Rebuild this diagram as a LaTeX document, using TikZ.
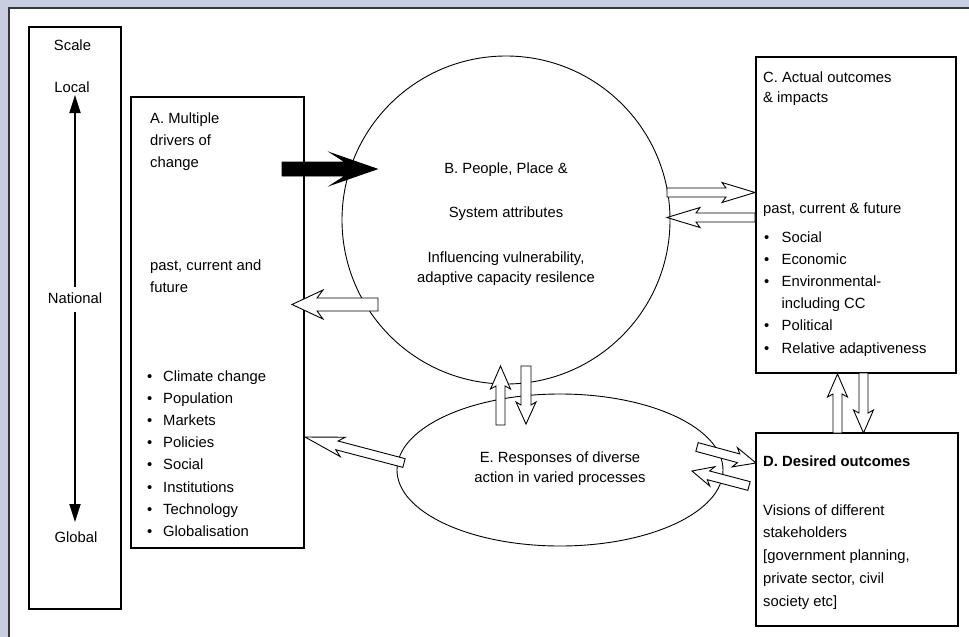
\documentclass[tikz,border=0pt]{standalone}
\usepackage{fontspec}
\setmainfont{Liberation Sans}
\usetikzlibrary{calc,arrows.meta}
\definecolor{bgblue}{RGB}{198,206,224}
\definecolor{framegray}{RGB}{55,55,55}
% #1 style, #2 tail, #3 tip, #4 half shaft, #5 half head, #6 junction dist from tip, #7 barb dist from tip
\newcommand\blockarrow[7][fill=white]{%
  \path let \p1=(#2), \p2=(#3), \n1={atan2(\y2-\y1,\x2-\x1)}, \n2={veclen(\x2-\x1,\y2-\y1)} in
    \pgfextra{\xdef\baang{\n1}\xdef\balen{\n2}};
  \pgfmathsetmacro\baA{\baang}%
  \pgfmathsetmacro\baL{\balen}%
  \pgfmathsetmacro\baj{\baL-#6}%
  \pgfmathsetmacro\bab{\baL-#7}%
  \draw[line width=0.9pt, line join=miter, #1, shift={(#2)}, rotate=\baA]
    (0pt,#4pt) -- (\baj pt,#4pt) -- (\bab pt,#5pt) -- (\baL pt,0pt)
    -- (\bab pt,-#5pt) -- (\baj pt,-#4pt) -- (0pt,-#4pt) -- cycle;
}
\tikzset{
  txt/.style={font=\fontsize{14.8pt}{17pt}\selectfont, inner sep=0pt, anchor=base west},
  ctxt/.style={txt, anchor=base},
  boxshape/.style={draw, line width=1.1pt, rectangle, inner sep=0pt},
}
\begin{document}
\begin{tikzpicture}[x=1pt,y=-1pt]
\useasboundingbox (0,0) rectangle (969,637);
\fill[bgblue] (0,0) rectangle (969,637);
\fill[white] (9,8) rectangle (969,637);
\coordinate (f1) at (9,637); \coordinate (f2) at (9,8); \coordinate (f3) at (969,8);
\draw[framegray, line width=2pt] (f1) -- (f2) -- (f3);

% scale box
\node[boxshape, minimum width=92pt, minimum height=582pt] (S) at (75,318) {};
\node[ctxt] (scale) at (72.5,50) {Scale};
\node[ctxt] (local) at (72,92) {Local};
\node[ctxt] (national) at (75,303) {National};
\node[ctxt] (global) at (76,542) {Global};
\coordinate (su) at (75,287);
\coordinate (sut) at (75,95);
\coordinate (sd) at (75,312);
\coordinate (sdt) at (75,522);
\draw[line width=1.8pt, -{Triangle[length=18pt,width=11pt]}] (su) -- (sut);
\draw[line width=1.8pt, -{Triangle[length=18pt,width=11pt]}] (sd) -- (sdt);

% box A
\node[boxshape, minimum width=173pt, minimum height=451pt] (A) at (217.5,322.5) {};
\foreach \t [count=\i from 0] in {A. Multiple, drivers of, change}
  \node[txt] (ah\i) at (150,123+22*\i) {\t};
\node[txt] (ap0) at (150,270) {past, current and};
\node[txt] (ap1) at (150,292) {future};
\foreach \t [count=\i from 0] in {Climate change, Population, Markets, Policies, Social, Institutions, Technology, Globalisation}
  \node[txt] (al\i) at (147,381+22.2*\i) {\makebox[16pt][l]{•}\t};

% circle B
\node[draw, circle, line width=0.9pt, minimum size=328pt, inner sep=0pt] (B) at (506,220) {};
\node[ctxt] (b1) at (506,173) {B. People, Place \&};
\node[ctxt] (b2) at (506,217) {System attributes};
\node[ctxt] (b3) at (506,262) {Influencing vulnerability,};
\node[ctxt] (b4) at (506,282) {adaptive capacity resilence};

% box C
\node[boxshape, minimum width=200pt, minimum height=316pt] (C) at (856,215) {};
\node[txt] (c1) at (763,82) {C. Actual outcomes};
\node[txt] (c2) at (763,102) {\& impacts};
\node[txt] (c3) at (763,213) {past, current \& future};
\node[txt] (cl0) at (764,242) {\makebox[17.5pt][l]{•}Social};
\node[txt] (cl1) at (764,264.2) {\makebox[17.5pt][l]{•}Economic};
\node[txt] (cl2) at (764,286.4) {\makebox[17.5pt][l]{•}Environmental-};
\node[txt] (cl3) at (764,308.6) {\makebox[17.5pt][l]{}including CC};
\node[txt] (cl4) at (764,330.8) {\makebox[17.5pt][l]{•}Political};
\node[txt] (cl5) at (764,353) {\makebox[17.5pt][l]{•}Relative adaptiveness};

% box D
\node[boxshape, minimum width=202pt, minimum height=193pt] (D) at (857,529.5) {};
\node[txt, font=\fontsize{14.8pt}{17pt}\selectfont\bfseries] (d0) at (763,466) {D. Desired outcomes};
\foreach \t [count=\i from 0] in {Visions of different, stakeholders, {[government planning,}, {private sector, civil}, society etc]}
  \node[txt] (dl\i) at (763,515+22.8*\i) {\t};

% ellipse E
\draw[line width=0.9pt] (560,470) ellipse [x radius=163pt, y radius=76pt];
\coordinate (E) at (560,470);
\node[ctxt] (e1) at (560,462) {E. Responses of diverse};
\node[ctxt] (e2) at (560,482) {action in varied processes};

% block arrows
\coordinate (k1) at (282,169); \coordinate (k2) at (377,169);
\blockarrow[fill=black]{k1}{k2}{7}{16}{32}{46}
\coordinate (ba1) at (378,304.5); \coordinate (ba2) at (292,304.5);
\blockarrow{ba1}{ba2}{6.5}{14.5}{25}{31}
\coordinate (bc1) at (667,192.5); \coordinate (bc2) at (755,192.5);
\blockarrow{bc1}{bc2}{4.5}{10}{29}{33}
\coordinate (cb1) at (755,217.5); \coordinate (cb2) at (667,217.5);
\blockarrow{cb1}{cb2}{4.5}{10}{29}{33}
\coordinate (ea1) at (404,463); \coordinate (ea2) at (305,437);
\blockarrow{ea1}{ea2}{4.5}{10}{33}{39}
\coordinate (eb1) at (500.5,425); \coordinate (eb2) at (500.5,366);
\blockarrow{eb1}{eb2}{4.5}{10}{20}{23}
\coordinate (be1) at (526,366); \coordinate (be2) at (526,424);
\blockarrow{be1}{be2}{5}{10}{19}{22}
\coordinate (dc1) at (837.5,433); \coordinate (dc2) at (837.5,374);
\blockarrow{dc1}{dc2}{4.5}{10}{20}{23}
\coordinate (cd1) at (863.5,373); \coordinate (cd2) at (863.5,433);
\blockarrow{cd1}{cd2}{4.5}{10}{20}{23}
\coordinate (ed1) at (697,447); \coordinate (ed2) at (756,463);
\blockarrow{ed1}{ed2}{4.5}{10}{18}{22}
\coordinate (de1) at (749,486); \coordinate (de2) at (692,471);
\blockarrow{de1}{de2}{4.5}{10}{17}{21}
\end{tikzpicture}
\end{document}
